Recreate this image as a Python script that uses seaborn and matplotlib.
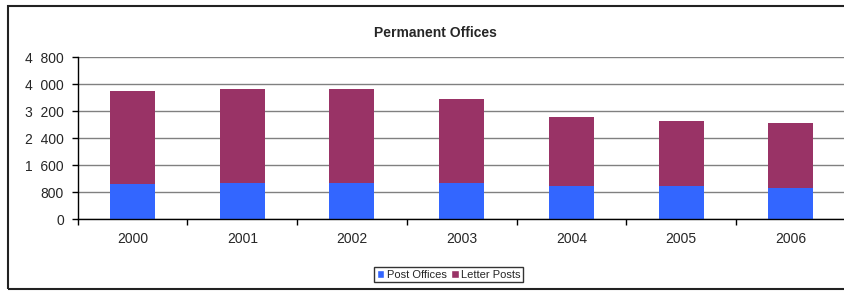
import matplotlib
matplotlib.use("Agg")
import matplotlib.pyplot as plt
from matplotlib.patches import Rectangle, Patch
from matplotlib.ticker import FuncFormatter, FixedLocator
import seaborn as sns
import pandas as pd

# values
years = ["2000", "2001", "2002", "2003", "2004", "2005", "2006"]
post_offices = [1050, 1075, 1075, 1075, 1000, 1000, 940]
letter_posts = [2750, 2785, 2785, 2490, 2030, 1915, 1915]

df = pd.DataFrame({"Year": years, "Post Offices": post_offices, "Letter Posts": letter_posts})
df["Total"] = df["Post Offices"] + df["Letter Posts"]

sns.set_style("white")
plt.rcParams["font.family"] = ["Liberation Sans", "DejaVu Sans"]

blue = "#3366FF"
maroon = "#993366"

fig = plt.figure(figsize=(8.44, 2.91), dpi=100)
ax = fig.add_axes([77.7 / 844, 1 - 219.3 / 291, (845.6 - 77.7) / 844, (219.3 - 57.3) / 291])

# stacked bars: total in maroon, post offices drawn over it in blue
sns.barplot(data=df, x="Year", y="Total", color=maroon, width=0.41, saturation=1,
            linewidth=0, ax=ax)
sns.barplot(data=df, x="Year", y="Post Offices", color=blue, width=0.41, saturation=1,
            linewidth=0, ax=ax)

ax.set_ylim(0, 4800)
ax.set_xlim(-0.5, len(years) - 0.5)
ax.set_yticks(range(0, 4801, 800))
ax.yaxis.set_major_formatter(FuncFormatter(lambda v, p: f"{v:,.0f}".replace(",", "  ")))
ax.grid(axis="y", color="#808080", linewidth=1)
ax.set_axisbelow(True)
ax.set_xlabel("")
ax.set_ylabel("")

for s in ["top", "right"]:
    ax.spines[s].set_visible(False)
for s in ["left", "bottom"]:
    ax.spines[s].set_color("black")
    ax.spines[s].set_linewidth(1)

# category boundary ticks like the original
ax.xaxis.set_minor_locator(FixedLocator([i + 0.5 for i in range(-1, len(years))]))
ax.tick_params(axis="x", which="major", length=0, labelsize=10, pad=9)
ax.tick_params(axis="x", which="minor", length=4, width=1, color="black", direction="out", bottom=True)
ax.tick_params(axis="y", length=4, width=1, color="black", direction="out", left=True,
               labelsize=10, pad=6)

fig.text(435 / 844, 1 - 33 / 291, "Permanent Offices", ha="center", va="center",
         fontsize=10, fontweight="bold")

handles = [Patch(facecolor=blue, label="Post Offices"), Patch(facecolor=maroon, label="Letter Posts")]
leg = fig.legend(handles=handles, loc="center", bbox_to_anchor=(448.5 / 844, 1 - 274.5 / 291),
                 ncol=2, frameon=True, fontsize=8, handlelength=0.7, handleheight=0.7,
                 handletextpad=0.2, columnspacing=0.4, borderpad=0.25, fancybox=False,
                 borderaxespad=0)
leg.get_frame().set_edgecolor("black")
leg.get_frame().set_linewidth(1)

# outer chart frame
fig.patches.append(Rectangle((8 / 844, 1 - 289 / 291), 900 / 844, 283 / 291,
                             transform=fig.transFigure, fill=False, edgecolor="#222222",
                             linewidth=1.5, clip_on=False))

fig.savefig("out.png", dpi=100)
